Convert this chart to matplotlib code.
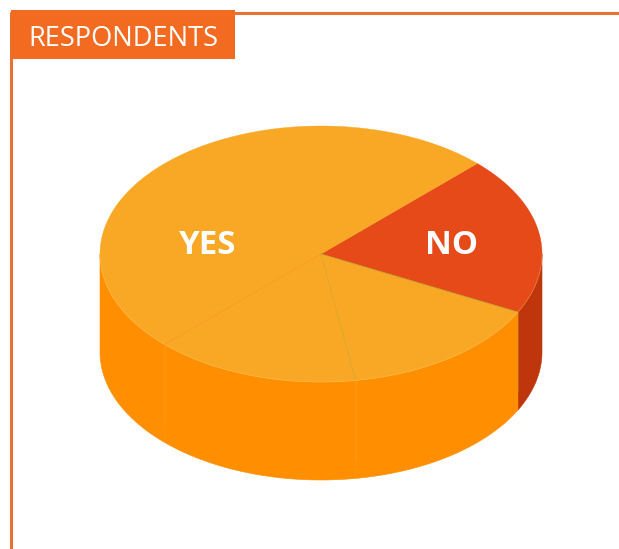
import numpy as np
import matplotlib
matplotlib.use("Agg")
import matplotlib.pyplot as plt
from matplotlib.patches import Rectangle

# slice shares, clockwise from the upper right rim
shares = [20, 15, 15, 50]
labels = ["NO", "", "", "YES"]
top_colors = ["#E64A19", "#F9A825", "#F9A825", "#F9A825"]
side_colors = ["#BF360C", "#FF8F00", "#FF8F00", "#FF8F00"]
title = "RESPONDENTS"

start_angle = 45
cx, cy = 321, 254
rx, ry = 221, 128
depth = 98

plt.rcParams["font.family"] = ["Open Sans", "DejaVu Sans"]
fig = plt.figure(figsize=(6.19, 5.49), dpi=100)
ax = fig.add_axes([0, 0, 1, 1])
ax.set_xlim(0, 619)
ax.set_ylim(549, 0)
ax.axis("off")


def rim(a0, a1, n=120):
    t = np.radians(np.linspace(a0, a1, n))
    return cx + rx * np.cos(t), cy - ry * np.sin(t)


# frame lines and title tab
ax.plot([10.5, 10.5], [12, 549], color="#EA7134", lw=2.2, solid_capstyle="butt")
ax.plot([10, 619], [12.5, 12.5], color="#EA7134", lw=2.2, solid_capstyle="butt")
ax.add_patch(Rectangle((11, 10), 224, 49, color="#F26B21", lw=0, zorder=3))
ax.text(123, 38.5, title, color="white", fontsize=19.6, ha="center", va="center", zorder=4)

# edges of each slice in degrees
edges = start_angle - np.cumsum([0] + shares) * 360 / sum(shares)

# outer wall, only the part of each slice on the front half
for i in range(len(shares)):
    a0, a1 = edges[i], edges[i + 1]
    lo, hi = max(a1, -180), min(a0, 0)
    if lo >= hi:
        continue
    x, y = rim(hi, lo)
    ax.fill(np.r_[x, x[::-1]], np.r_[y, y[::-1] + depth], color=side_colors[i], lw=0.4, zorder=1)

# top face
for i in range(len(shares)):
    x, y = rim(edges[i], edges[i + 1])
    ax.fill(np.r_[cx, x], np.r_[cy, y], color=top_colors[i], lw=0.3, zorder=2)

# faint seams between slices
seam_colors = ["#A8A030", "#B8A030", "#F08A20"]
seam_alpha = [0.7, 0.5, 0.5]
wall_alpha = [0.7, 0.2, 0.15]
for i, ang in enumerate(edges[1:4]):
    x, y = rim(ang, ang, 1)
    ax.plot([cx, x[0]], [cy, y[0]], color=seam_colors[i], lw=0.6, alpha=seam_alpha[i], zorder=2.5)
    ax.plot([x[0], x[0]], [y[0], y[0] + depth * 0.8], color="#FFC060" if i else "#A87A20",
            lw=0.6, alpha=wall_alpha[i], zorder=2.5)

# pale highlight along the front rim
x, y = rim(0, -180)
ax.plot(x, y, color="#FFD27A", lw=0.5, alpha=0.4, zorder=2.6)

# slice captions
label_pos = {"NO": (452, 245), "YES": (207.5, 245)}
for lab in labels:
    if lab:
        ax.text(*label_pos[lab], lab, color="white", fontsize=23.8, fontweight="bold",
                ha="center", va="center", zorder=5)

fig.savefig("out.png", dpi=100)
